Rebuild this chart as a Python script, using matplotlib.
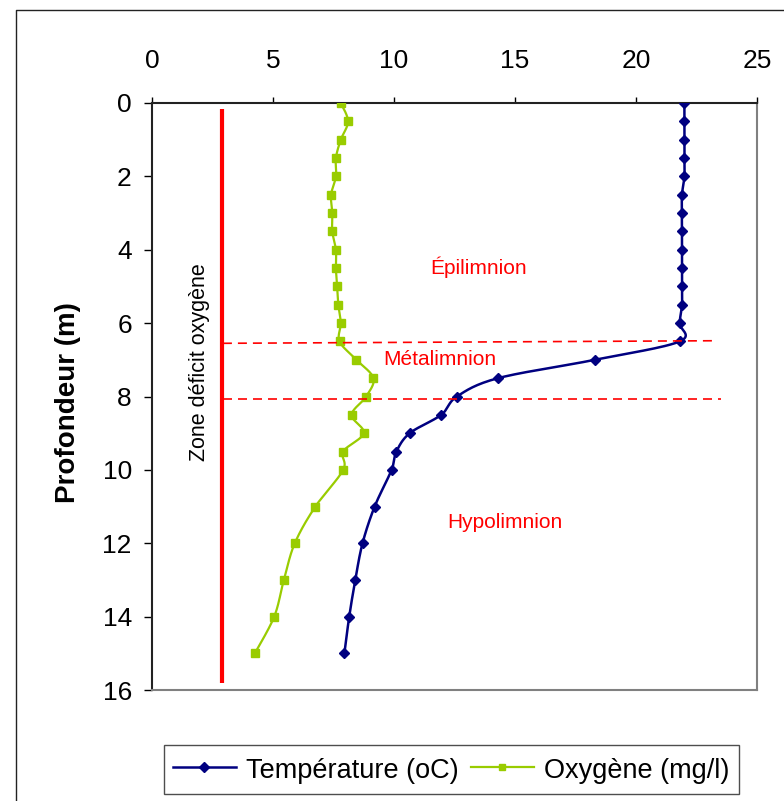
import numpy as np
import matplotlib
matplotlib.use('Agg')
import matplotlib.pyplot as plt
from matplotlib.lines import Line2D

plt.rcParams['font.family'] = ['Liberation Sans', 'DejaVu Sans']

# Profil temperature / oxygene
prof_temp = [0, 0.5, 1, 1.5, 2, 2.5, 3, 3.5, 4, 4.5, 5, 5.5, 6, 6.5,
             7, 7.5, 8, 8.5, 9, 9.5, 10, 11, 12, 13, 14, 15]
temperature = [22.0, 22.0, 22.0, 22.0, 22.0, 21.9, 21.9, 21.9, 21.9, 21.9, 21.9, 21.9, 21.8, 21.8,
               18.3, 14.3, 12.6, 11.95, 10.65, 10.1, 9.9, 9.2, 8.7, 8.4, 8.15, 7.95]

prof_oxy = [0, 0.5, 1, 1.5, 2, 2.5, 3, 3.5, 4, 4.5, 5, 5.5, 6, 6.5,
            7, 7.5, 8, 8.5, 9, 9.5, 10, 11, 12, 13, 14, 15]
oxygene = [7.8, 8.1, 7.8, 7.6, 7.6, 7.4, 7.45, 7.45, 7.6, 7.6, 7.65, 7.7, 7.8, 7.75,
           8.45, 9.15, 8.85, 8.25, 8.75, 7.9, 7.9, 6.75, 5.9, 5.45, 5.05, 4.25]

# limites des couches (m)
thermo_haut = 6.5
thermo_bas = 8.07
zone_x = 2.9  # ligne zone deficit

W, H = 784, 801
fig = plt.figure(figsize=(W / 100, H / 100), dpi=100)
ax = fig.add_axes([152 / W, 1 - 690 / H, 605 / W, 587 / H])
ax.set_xlim(0, 25)
ax.set_ylim(16, 0)


def smooth(xs, ys, n=25):
    # lissage facon excel (bezier), calcule en pixels
    pts = ax.transData.transform(np.column_stack([xs, ys]))
    out = []
    for i in range(len(pts) - 1):
        p0 = pts[max(i - 1, 0)]
        p1 = pts[i]
        p2 = pts[i + 1]
        p3 = pts[min(i + 2, len(pts) - 1)]
        c1 = p1 + (p2 - p0) / 6
        c2 = p2 - (p3 - p1) / 6
        t = np.linspace(0, 1, n)[:, None]
        seg = (1 - t)**3 * p1 + 3 * (1 - t)**2 * t * c1 + 3 * (1 - t) * t**2 * c2 + t**3 * p2
        out.append(seg if i == 0 else seg[1:])
    res = ax.transData.inverted().transform(np.vstack(out))
    return res[:, 0], res[:, 1]


bleu = '#000080'
vert = '#99CC00'
rouge = '#FF0000'

sx, sy = smooth(temperature, prof_temp)
ax.plot(sx, sy, color=bleu, lw=1.8, zorder=3)
ax.plot(temperature, prof_temp, ls='none', marker='D', ms=5.4, color=bleu, zorder=4)

sx, sy = smooth(oxygene, prof_oxy)
ax.plot(sx, sy, color=vert, lw=1.6, zorder=3)
ax.plot(oxygene, prof_oxy, ls='none', marker='s', ms=6.3, color=vert, zorder=4)

# zone deficit oxygene
ax.plot([zone_x, zone_x], [0.16, 15.8], color=rouge, lw=3, solid_capstyle='butt', zorder=5)
ax.plot([2.93, 23.3], [6.55, 6.48], color=rouge, lw=1.2, dashes=(5.4, 3.6), zorder=5)
ax.plot([2.93, 23.5], [thermo_bas, thermo_bas], color=rouge, lw=1.2, dashes=(5.4, 3.6), zorder=5)

ax.text(13.5, 4.47, 'Épilimnion', color=rouge, fontsize=15, ha='center', va='center')
ax.text(11.88, 7.0, 'Métalimnion', color=rouge, fontsize=15, ha='center', va='center')
ax.text(14.6, 11.44, 'Hypolimnion', color=rouge, fontsize=15, ha='center', va='center')
ax.text(1.98, 7.07, 'Zone déficit oxygène', fontsize=15.5, rotation=90, ha='center', va='center')

ax.xaxis.tick_top()
ax.set_xticks(range(0, 26, 5))
ax.set_yticks(range(0, 17, 2))
ax.tick_params(axis='x', direction='out', length=4.5, width=1, labelsize=19, pad=17)
ax.tick_params(axis='y', direction='out', length=5.5, width=1, labelsize=19, pad=9)
ax.set_ylabel('Profondeur (m)', fontsize=20, fontweight='bold')
ax.yaxis.set_label_coords(-0.118, 0.49)

ax.spines['top'].set_color('#222222')
ax.spines['left'].set_color('#222222')
ax.spines['bottom'].set_color('#808080')
ax.spines['right'].set_color('#808080')
for s in ax.spines.values():
    s.set_linewidth(1.5)

# cadre exterieur
fig.add_artist(Line2D([16 / W, 16 / W, 1], [0, 1 - 10 / H, 1 - 10 / H],
                      transform=fig.transFigure, color='#222222', lw=1))

handles = [Line2D([], [], color=bleu, lw=1.8, marker='D', ms=5),
           Line2D([], [], color=vert, lw=1.6, marker='s', ms=5)]
leg = fig.legend(handles, ['Température (oC)', 'Oxygène (mg/l)'], ncol=2,
                 loc='center', bbox_to_anchor=(451.5 / W, 1 - 769.5 / H),
                 fontsize=19.5, frameon=True, fancybox=False, edgecolor='#222222',
                 handlelength=2.3, handleheight=1.3, handletextpad=0.4, columnspacing=0.45,
                 borderpad=0.35, borderaxespad=0)
leg.get_frame().set_linewidth(1)

fig.savefig('out.png', dpi=100)
